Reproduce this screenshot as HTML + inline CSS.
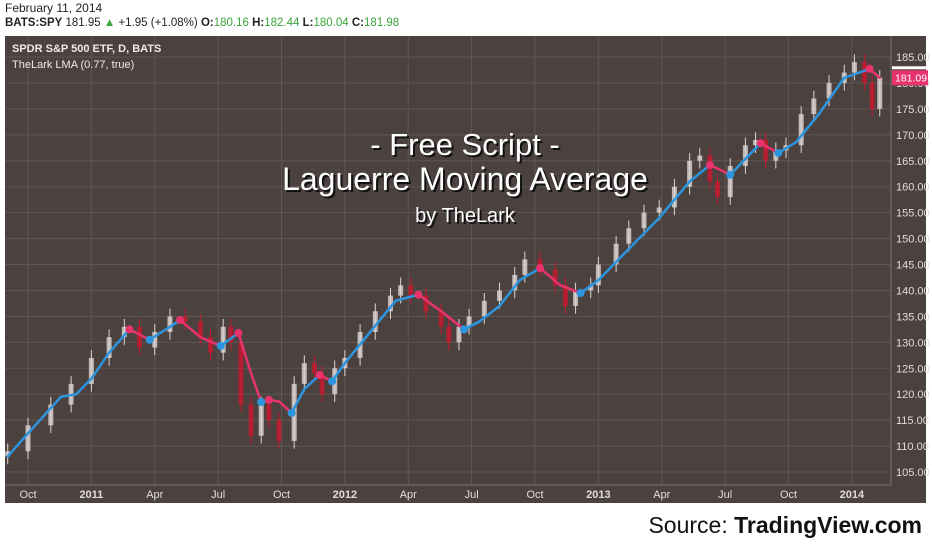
<!DOCTYPE html>
<html><head><meta charset="utf-8">
<style>
body{margin:0;width:932px;height:550px;background:#fff;overflow:hidden;font-family:"Liberation Sans",sans-serif;}
#hdr1{position:absolute;left:5px;top:1px;font-size:12px;color:#222;}
#hdr2{position:absolute;left:5px;top:17px;font-size:11.5px;color:#222;}
#hdr2 b{font-weight:bold}
.g{color:#3aa53a}
#src{position:absolute;right:10px;top:512px;font-size:23px;color:#111;}
svg{position:absolute;left:0;top:0}
</style></head><body>
<div id="hdr1">February 11, 2014</div>
<div id="hdr2"><b>BATS:SPY</b> 181.95 <span class="g">▲</span> +1.95 (+1.08%) <b>O:</b><span class="g">180.16</span> <b>H:</b><span class="g">182.44</span> <b>L:</b><span class="g">180.04</span> <b>C:</b><span class="g">181.98</span></div>
<svg id="chart" width="932" height="550"></svg>
<div id="src">Source: <b>TradingView.com</b></div>
<script>
const priceTicks=[105,110,115,120,125,130,135,140,145,150,155,160,165,170,175,180,185];
const timeTicks=[2010.75,2011.0,2011.25,2011.5,2011.75,2012.0,2012.25,2012.5,2012.75,2013.0,2013.25,2013.5,2013.75,2014.0];
const timeLabels=["Oct","2011","Apr","Jul","Oct","2012","Apr","Jul","Oct","2013","Apr","Jul","Oct","2014"];
const closeT=[2010.67,2010.75,2010.84,2010.92,2011.00,2011.07,2011.13,2011.19,2011.25,2011.31,2011.37,2011.43,2011.47,2011.52,2011.55,2011.59,2011.63,2011.67,2011.70,2011.74,2011.80,2011.84,2011.88,2011.91,2011.96,2012.00,2012.06,2012.12,2012.18,2012.22,2012.26,2012.32,2012.38,2012.41,2012.45,2012.49,2012.55,2012.61,2012.67,2012.71,2012.77,2012.83,2012.87,2012.91,2012.97,2013.00,2013.07,2013.12,2013.18,2013.24,2013.30,2013.36,2013.40,2013.44,2013.47,2013.52,2013.58,2013.62,2013.66,2013.70,2013.74,2013.80,2013.85,2013.91,2013.97,2014.01,2014.05,2014.08,2014.11];
const closeV=[109,114,118,122,127,131,133,129,132,135,134,131,128,133,130,118,112,118,115,111,122,126,124,120,125,127,132,136,139,141,139,136,133,130,133,135,138,140,143,146,144,141,137,140,141,145,149,152,155,156,160,165,166,161,158,164,168,169,165,167,168,174,177,180,182,184,180,175,181];
const lmaT=[2010.67,2010.76,2010.88,2010.94,2011.00,2011.07,2011.15,2011.23,2011.31,2011.35,2011.43,2011.51,2011.58,2011.63,2011.67,2011.70,2011.74,2011.79,2011.84,2011.90,2011.95,2012.00,2012.10,2012.20,2012.29,2012.38,2012.47,2012.53,2012.61,2012.69,2012.77,2012.85,2012.93,2013.00,2013.12,2013.24,2013.36,2013.44,2013.52,2013.64,2013.71,2013.78,2013.87,2013.97,2014.07,2014.11];
const lmaV=[108,113,119.5,120,123,128,132.5,130.5,133,134.3,131,129.3,131.8,124,118.5,118.9,118.6,116.4,121,123.7,122.5,126,132,138,139.2,136,132.5,134,137,142,144.3,141,139.5,142,148,154,161,164.2,162.3,168.4,166.5,168.6,174,181,182.7,181];
const lastPrice=181.09;

const NS="http://www.w3.org/2000/svg";
const svg=document.getElementById('chart');
const L=5,R=891,T=36,B=485;
const yS=p=>57+(185-p)*25.94/5;
const xS=t=>28+(t-2010.75)*253.5;
function mk(tag,attrs,parent){const e=document.createElementNS(NS,tag);for(const k in attrs)e.setAttribute(k,attrs[k]);(parent||svg).appendChild(e);return e;}
const bg=mk('rect',{x:5,y:36,width:921,height:467,fill:'#4b423f'});


priceTicks.forEach(p=>{
 const y=yS(p);
 const gl=mk('line',{x1:L,x2:R,y1:y,y2:y,stroke:'#5f5653','stroke-width':1});
 
 
 const tx=mk('text',{x:896,y:y+4,fill:'#e0dcda','font-size':11,'font-family':'Liberation Sans'});
 tx.textContent=p.toFixed(2);
 
 
});
timeTicks.forEach((t,i)=>{
 const x=xS(t);
 const gl=mk('line',{x1:x,x2:x,y1:T,y2:B,stroke:'#5f5653','stroke-width':1});
 
 
 const yr=/^\d{4}$/.test(timeLabels[i]);
 const tx=mk('text',{x:x,y:498,fill:'#e0dcda','font-size':11,'text-anchor':'middle','font-weight':yr?'bold':'normal','font-family':'Liberation Sans'});
 tx.textContent=timeLabels[i];
 
 
});
const ax=mk('polyline',{points:`${L},${B} ${R},${B} ${R},${T}`,fill:'none',stroke:'#7a716e'});


// candles
for(let i=0;i<closeV.length;i++){
 const o=i?closeV[i-1]:closeV[i]-1, c=closeV[i], x=xS(closeT[i]);
 const up=c>=o, col=up?'#dcd6d4':'#c41a2e';
 const hi=Math.max(o,c)+1.5, lo=Math.min(o,c)-1.5;
 const w=mk('line',{x1:x,x2:x,y1:yS(hi),y2:yS(lo),stroke:col,'stroke-width':1});
 
 
 const b=mk('rect',{x:x-2.5,y:yS(Math.max(o,c)),width:5,height:Math.max(1,Math.abs(yS(o)-yS(c))),fill:col,opacity:0.8});
 
 
}
// LMA
const dots=[];
for(let i=1;i<lmaV.length;i++){
 const up=lmaV[i]>=lmaV[i-1], col=up?'#2d95e0':'#e8336f';
 const s=mk('line',{x1:xS(lmaT[i-1]),y1:yS(lmaV[i-1]),x2:xS(lmaT[i]),y2:yS(lmaV[i]),stroke:col,'stroke-width':2.5,'stroke-linecap':'round'});
 
 
 if(i>1){const pu=lmaV[i-1]>=lmaV[i-2]; if(pu!==up) dots.push([lmaT[i-1],lmaV[i-1],col]);}
}
dots.forEach(d=>{
 const c=mk('circle',{cx:xS(d[0]),cy:yS(d[1]),r:4,fill:d[2]});
 
 
});
// last price marker
const lp=yS(lastPrice);
const wl=mk('rect',{x:892,y:lp-11,width:36,height:3,fill:'#ffffff'});


const pb=mk('rect',{x:892,y:lp-7,width:36,height:15,fill:'#e8336f'});


const pt=mk('text',{x:895,y:lp+4,fill:'#fff','font-size':10.5,'font-family':'Liberation Sans'});
pt.textContent=lastPrice.toFixed(2);


// legend texts
const l1=mk('text',{x:12,y:52,fill:'#eeeae8','font-size':11,'font-weight':'bold','font-family':'Liberation Sans'});
l1.textContent='SPDR S&P 500 ETF, D, BATS';


const l2=mk('text',{x:12,y:68,fill:'#eeeae8','font-size':11,'font-family':'Liberation Sans'});
l2.textContent='TheLark LMA (0.77, true)';


// title
[['- Free Script -',155,31,'title-line-1'],['Laguerre Moving Average',190,32,'title-line-2'],['by TheLark',222,20,'title-byline']].forEach(a=>{
 const sh=mk('text',{x:467,y:a[1]+2,fill:'#111','font-size':a[2],'text-anchor':'middle','font-family':'Liberation Sans'});
 sh.textContent=a[0];
 
 
 const t=mk('text',{x:465,y:a[1],fill:'#fff','font-size':a[2],'text-anchor':'middle','font-family':'Liberation Sans'});
 t.textContent=a[0];
 
 
});
</script>
</body></html>
